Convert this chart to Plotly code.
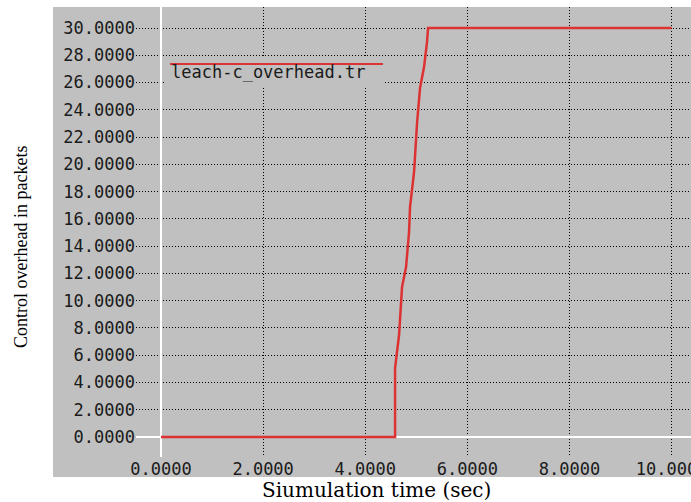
import plotly.graph_objects as go

# Cumulative control overhead (packets) against simulation time (sec)
sim_time = [0.0, 4.584, 4.584, 4.623, 4.662, 4.721, 4.799, 4.858, 4.877,
            4.956, 5.015, 5.073, 5.152, 5.210, 5.230, 10.0]
overhead = [0.0, 0.0, 5.06, 6.38, 7.48, 11.0, 12.47, 15.04, 16.87,
            19.44, 23.04, 25.6, 27.15, 28.98, 30.0, 30.0]

x_ticks = [0, 2, 4, 6, 8, 10]
y_ticks = list(range(0, 31, 2))
series_name = "leach-c_overhead.tr"
x_title = "Siumulation time (sec)"
y_title = "Control overhead in packets"

W, H = 691, 502
L, R, T, B = 136, 0, 7, 45
PW, PH = W - L - R, H - T - B

BG = "#c0c0c0"
RED = "#dc3232"
MONO = "DejaVu Sans Mono"


def px(xp):
    return (xp - L) / PW


def py(yp):
    return (H - B - yp) / PH


fig = go.Figure()
fig.add_trace(go.Scatter(
    x=sim_time, y=overhead, mode="lines",
    line=dict(color=RED, width=2.5),
    showlegend=False, hoverinfo="skip",
))

axis_common = dict(
    showgrid=True, gridcolor="#000000", gridwidth=1, griddash="1px,2px",
    zeroline=True, zerolinecolor="#ffffff", zerolinewidth=2,
    showline=False, ticks="", tickformat=".4f",
    ticklabeloverflow="allow", automargin=False,
    tickfont=dict(family=MONO, size=17, color="#1a1a1a"),
)

fig.update_xaxes(range=[-0.49, 10.38], tickvals=x_ticks, **axis_common)
fig.update_yaxes(range=[-1.467, 31.54], tickvals=y_ticks, **axis_common)

shapes = [
    # grey panel behind axes and tick labels
    dict(type="rect", xref="paper", yref="paper", layer="below",
         x0=px(53), x1=1.02, y0=py(477), y1=1.0,
         fillcolor=BG, line=dict(width=0)),
    # legend box
    dict(type="rect", xref="paper", yref="paper", layer="above",
         x0=px(164), x1=px(384), y0=py(88), y1=py(57),
         fillcolor=BG, line=dict(width=0)),
    dict(type="line", xref="paper", yref="paper", layer="above",
         x0=px(170), x1=px(383), y0=py(64), y1=py(64),
         line=dict(color=RED, width=2)),
]

annotations = [
    dict(text=series_name, xref="paper", yref="paper",
         x=px(169), y=py(72), xanchor="left", yanchor="middle",
         showarrow=False, font=dict(family=MONO, size=17, color="#1a1a1a")),
    dict(text=x_title, xref="paper", yref="paper",
         x=px(376), y=py(490), xanchor="center", yanchor="middle",
         showarrow=False,
         font=dict(family="DejaVu Serif", size=20, color="#000000")),
    dict(text=y_title, xref="paper", yref="paper", textangle=-90,
         x=px(21), y=py(247), xanchor="center", yanchor="middle",
         showarrow=False,
         font=dict(family="Liberation Serif", size=18, color="#000000")),
]

fig.update_layout(
    width=W, height=H,
    margin=dict(l=L, r=R, t=T, b=B, autoexpand=False),
    paper_bgcolor="#ffffff", plot_bgcolor=BG,
    shapes=shapes, annotations=annotations,
    showlegend=False,
)

fig.write_html("out.html")
